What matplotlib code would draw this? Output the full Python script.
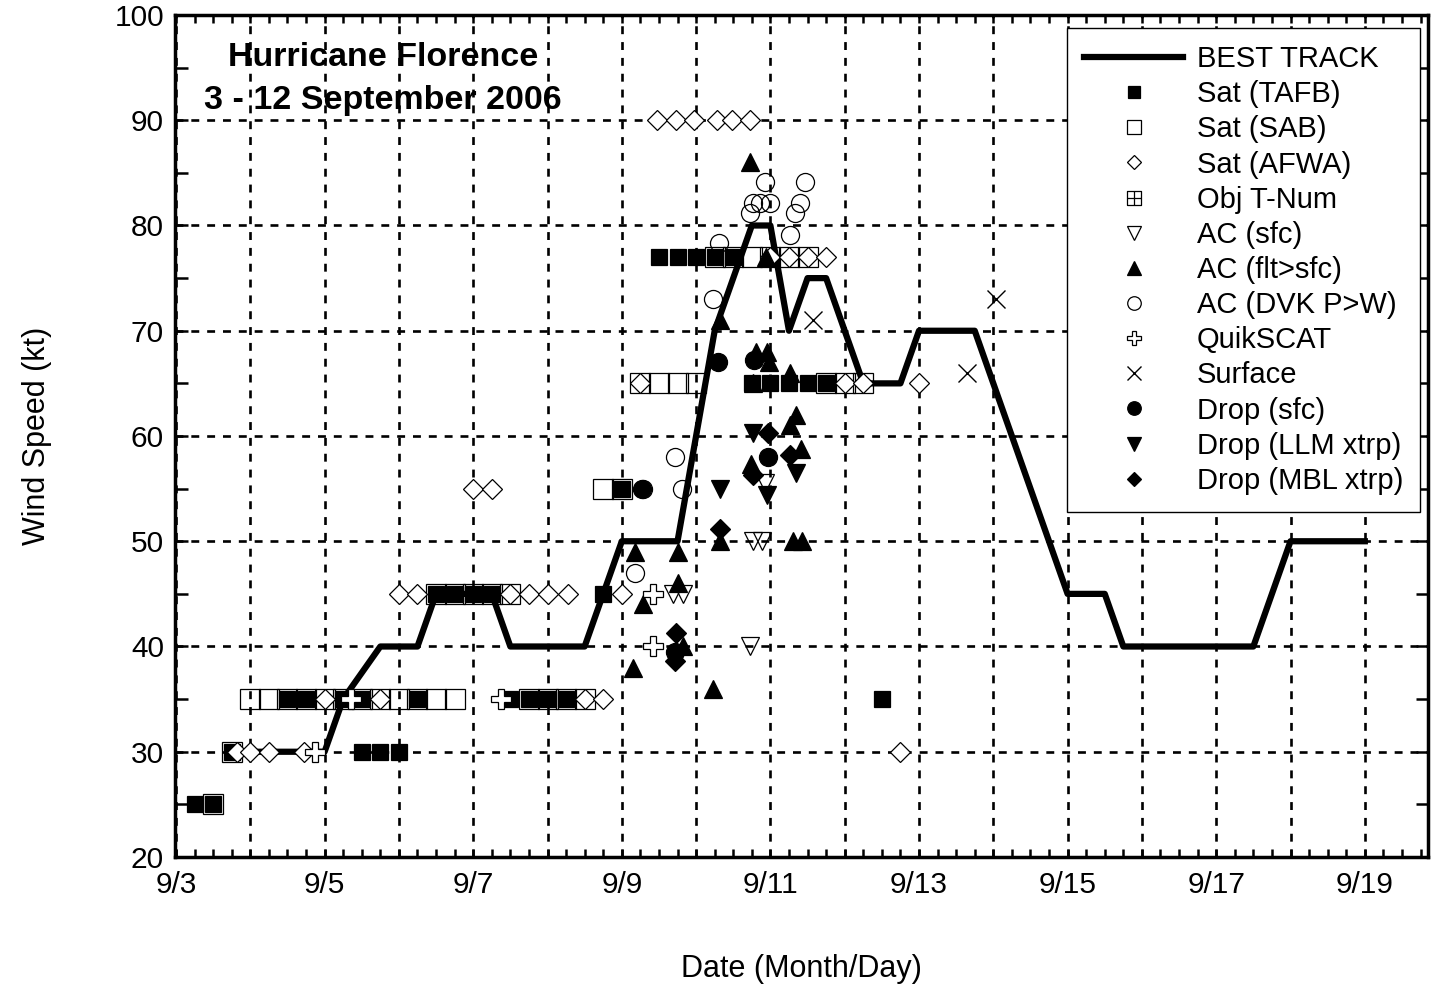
import matplotlib
matplotlib.use("Agg")
import matplotlib.pyplot as plt
from matplotlib.path import Path
from matplotlib.ticker import FixedLocator, FixedFormatter, MultipleLocator

plt.rcParams['font.family'] = ['Liberation Sans', 'DejaVu Sans']

# x values are day of September (fractional, UTC), y values are knots
track_x = [3.75, 5.0, 5.25, 5.75, 6.25, 6.5, 7.25, 7.5, 8.5, 9.0, 9.75, 10.25, 10.75, 11.0,
           11.25, 11.5, 11.75, 12.25, 12.75, 13.0, 13.75, 15.0, 15.5, 15.75, 17.5, 18.0, 19.0]
track_y = [30, 30, 35, 40, 40, 45, 45, 40, 40, 50, 50, 70, 80, 80,
           70, 75, 75, 65, 65, 70, 70, 45, 45, 40, 40, 50, 50]

tafb_x = [3.25, 3.5, 3.75, 4.5, 4.75, 5.25, 5.5, 6.25, 5.5, 5.75, 6.0, 6.5, 6.75, 7.0, 7.25,
          7.5, 7.75, 8.0, 8.25, 8.75, 9.0, 9.5, 9.75, 10.0, 10.25, 10.5,
          10.75, 11.0, 11.25, 11.5, 11.75, 12.5]
tafb_y = [25, 25, 30, 35, 35, 35, 35, 35, 30, 30, 30, 45, 45, 45, 45,
          35, 35, 35, 35, 45, 55, 77, 77, 77, 77, 77,
          65, 65, 65, 65, 65, 35]

sab_x = [3.5, 3.75, 4.0, 4.25, 4.5, 4.75, 5.0, 5.25, 5.5, 5.75, 6.0, 6.25, 6.5, 6.75,
         6.5, 6.75, 7.0, 7.25, 7.5, 7.75, 8.0, 8.25, 8.5, 8.75, 9.0,
         9.25, 9.5, 9.75, 10.0, 10.25, 10.5, 10.75, 11.0, 11.25, 11.5, 11.75, 12.0, 12.25]
sab_y = [25, 30, 35, 35, 35, 35, 35, 35, 35, 35, 35, 35, 35, 35,
         45, 45, 45, 45, 45, 35, 35, 35, 35, 55, 55,
         65, 65, 65, 65, 77, 77, 77, 77, 77, 77, 65, 65, 65]

afwa_x = [3.82, 4.0, 4.25, 4.72, 5.0, 5.75, 6.0, 6.25, 7.0, 7.25, 7.5, 7.75, 8.0, 8.28,
          8.5, 8.75, 9.0, 9.25, 9.47, 9.73, 9.97, 10.28, 10.48, 10.73,
          11.0, 11.25, 11.5, 11.75, 12.0, 12.25, 12.75, 13.0]
afwa_y = [30, 30, 30, 30, 35, 35, 45, 45, 55, 55, 45, 45, 45, 45,
          35, 35, 45, 65, 90, 90, 90, 90, 90, 90,
          77, 77, 77, 77, 65, 65, 30, 65]

objt_x = []
objt_y = []

acsfc_x = [9.69, 9.82, 10.77, 10.89, 10.73, 10.93]
acsfc_y = [45, 45, 50, 50, 40, 55.5]

acflt_x = [9.18, 9.76, 9.75, 9.28, 9.82, 9.15, 10.23, 10.32, 10.32, 10.73, 10.94, 10.77,
           11.27, 10.8, 10.96, 10.98, 10.74, 11.27, 11.34, 11.41, 11.31, 11.43]
acflt_y = [49, 49, 46, 44, 40, 38, 36, 50, 71, 86, 77, 65,
           66, 68, 68, 67, 57.3, 61, 62, 58.8, 50, 50]

dvk_x = [9.18, 9.29, 9.81, 9.72, 10.23, 10.31, 10.72, 10.76, 10.86, 10.99, 10.93,
         11.27, 11.33, 11.4, 11.47]
dvk_y = [47, 55, 55, 58, 73, 78.3, 81.2, 82.1, 82.1, 82.1, 84.1,
         79.1, 81.2, 82.1, 84.1]

qscat_x = [4.87, 5.35, 7.38, 9.42, 9.42]
qscat_y = [30, 35, 35, 45, 40]

sfc_x = [11.57, 13.64, 14.03]
sfc_y = [71, 66, 73]

drop_x = [9.27, 9.71, 10.3, 10.78, 10.97]
drop_y = [55, 39.5, 67, 67.2, 58]

llm_x = [10.32, 10.77, 10.95, 11.34]
llm_y = [55, 60.3, 54.4, 56.5]

mbl_x = [9.73, 9.72, 10.32, 10.77, 10.97, 11.26]
mbl_y = [41.3, 38.6, 51.2, 56.3, 60.3, 58.2]

days = list(range(3, 20))
day_labels = [f"9/{d}" if (d - 3) % 2 == 0 else "" for d in days]

# square with a plus inside for Obj T-Num
boxplus = Path([(-1, -1), (1, -1), (1, 1), (-1, 1), (-1, -1), (0, -1), (0, 1), (-1, 0), (1, 0)],
               [Path.MOVETO, Path.LINETO, Path.LINETO, Path.LINETO, Path.LINETO,
                Path.MOVETO, Path.LINETO, Path.MOVETO, Path.LINETO])

fig = plt.figure(figsize=(14.31, 9.85), dpi=100)
ax = fig.add_axes([175 / 1431, 1 - 857 / 985, (1428 - 175) / 1431, 842 / 985])

ax.plot(track_x, track_y, color='k', lw=4.5, label='BEST TRACK', zorder=3)

mk = dict(ls='none', zorder=4)
ax.plot(sab_x, sab_y, marker='s', ms=14, mfc='none', mec='k', mew=0.9, label='Sat (SAB)', **mk)
ax.plot(tafb_x, tafb_y, marker='s', ms=11, mfc='k', mec='k', mew=0.9, label='Sat (TAFB)', **mk)
ax.plot(afwa_x, afwa_y, marker='D', ms=10, mfc='white', mec='k', mew=0.9, label='Sat (AFWA)', **mk)
ax.plot(objt_x, objt_y, marker=boxplus, ms=13, mfc='none', mec='k', mew=0.9, label='Obj T-Num', **mk)
ax.plot(acsfc_x, acsfc_y, marker='v', ms=13, mfc='none', mec='k', mew=0.9, label='AC (sfc)', **mk)
ax.plot(acflt_x, acflt_y, marker='^', ms=13, mfc='k', mec='k', mew=0.9, label='AC (flt>sfc)', **mk)
ax.plot(dvk_x, dvk_y, marker='o', ms=13, mfc='none', mec='k', mew=0.9, label='AC (DVK P>W)', **mk)
ax.plot(qscat_x, qscat_y, marker='P', ms=14, mfc='white', mec='k', mew=0.9, label='QuikSCAT', **mk)
ax.plot(sfc_x, sfc_y, marker='x', ms=13, mfc='none', mec='k', mew=1.0, label='Surface', **mk)
ax.plot(drop_x, drop_y, marker='o', ms=13, mfc='k', mec='k', mew=0.9, label='Drop (sfc)', **mk)
ax.plot(llm_x, llm_y, marker='v', ms=13, mfc='k', mec='k', mew=0.9, label='Drop (LLM xtrp)', **mk)
ax.plot(mbl_x, mbl_y, marker='D', ms=10, mfc='k', mec='k', mew=0.9, label='Drop (MBL xtrp)', **mk)

ax.set_xlim(3 - 1 / 74.3, 3 + (1428 - 176) / 74.3)
ax.set_ylim(20, 100)

ax.xaxis.set_major_locator(FixedLocator(days))
ax.xaxis.set_major_formatter(FixedFormatter(day_labels))
ax.xaxis.set_minor_locator(MultipleLocator(0.25))
ax.yaxis.set_major_locator(MultipleLocator(10))
ax.yaxis.set_minor_locator(MultipleLocator(5))

ax.tick_params(which='both', direction='in', top=True, right=True, width=1.8, labelsize=21.5)
ax.tick_params(axis='x', which='both', length=6, pad=10)
ax.tick_params(axis='y', which='both', length=9, pad=8)

ax.grid(True, which='major', color='k', ls=(0, (3, 3)), lw=1.9)
ax.set_axisbelow(True)
for s in ax.spines.values():
    s.set_linewidth(2.5)

ax.set_xlabel('Date (Month/Day)', fontsize=22, labelpad=40)
ax.set_ylabel('Wind Speed (kt)', fontsize=22, labelpad=45)

ax.text(0.166, 0.949, 'Hurricane Florence', transform=ax.transAxes, ha='center', va='center',
        fontsize=24.5, fontweight='bold', zorder=6)
ax.text(0.166, 0.899, '3 - 12 September 2006', transform=ax.transAxes, ha='center', va='center',
        fontsize=24.5, fontweight='bold', zorder=6)

# legend in reference order
handles, labels = ax.get_legend_handles_labels()
order = ['BEST TRACK', 'Sat (TAFB)', 'Sat (SAB)', 'Sat (AFWA)', 'Obj T-Num', 'AC (sfc)',
         'AC (flt>sfc)', 'AC (DVK P>W)', 'QuikSCAT', 'Surface', 'Drop (sfc)',
         'Drop (LLM xtrp)', 'Drop (MBL xtrp)']
hmap = dict(zip(labels, handles))
leg = ax.legend([hmap[o] for o in order], order, loc='upper right', bbox_to_anchor=(0.994, 0.985),
                borderaxespad=0, fontsize=21, handlelength=3.4, handletextpad=0.45,
                labelspacing=0.245, markerscale=0.75, fancybox=False, framealpha=1,
                edgecolor='k', borderpad=0.6)
leg.get_frame().set_linewidth(1.0)
leg.set_zorder(7)

fig.savefig('out.png', dpi=100)
